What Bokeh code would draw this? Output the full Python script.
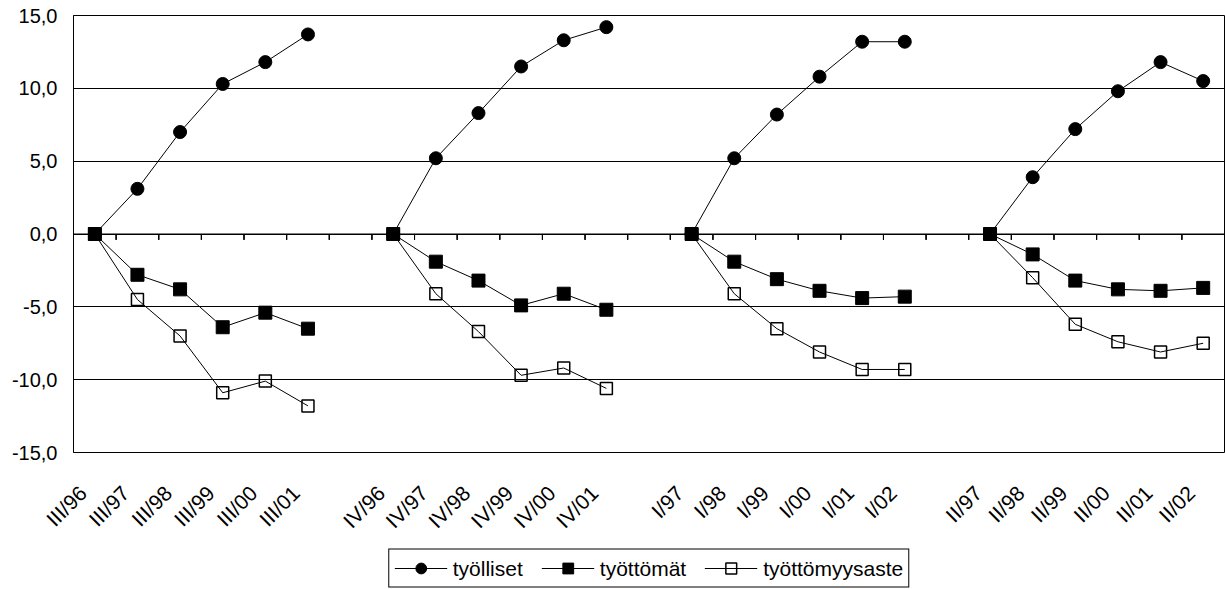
import math
from bokeh.plotting import figure
from bokeh.layouts import column
from bokeh.models import (ColumnDataSource, Range1d, FixedTicker, Span,
                          Legend, LegendItem, CustomJSTickFormatter)
from bokeh.embed import file_html
from bokeh.resources import INLINE

# ---- data ----
categories = ["III/96", "III/97", "III/98", "III/99", "III/00", "III/01", "",
              "IV/96", "IV/97", "IV/98", "IV/99", "IV/00", "IV/01", "",
              "I/97", "I/98", "I/99", "I/00", "I/01", "I/02", "",
              "II/97", "II/98", "II/99", "II/00", "II/01", "II/02"]
N = None
tyolliset = [0.0, 3.1, 7.0, 10.3, 11.8, 13.7, N,
             0.0, 5.2, 8.3, 11.5, 13.3, 14.2, N,
             0.0, 5.2, 8.2, 10.8, 13.2, 13.2, N,
             0.0, 3.9, 7.2, 9.8, 11.8, 10.5]
tyottomat = [0.0, -2.8, -3.8, -6.4, -5.4, -6.5, N,
             0.0, -1.9, -3.2, -4.9, -4.1, -5.2, N,
             0.0, -1.9, -3.1, -3.9, -4.4, -4.3, N,
             0.0, -1.4, -3.2, -3.8, -3.9, -3.7]
tyottomyysaste = [0.0, -4.5, -7.0, -10.9, -10.1, -11.8, N,
                  0.0, -4.1, -6.7, -9.7, -9.2, -10.6, N,
                  0.0, -4.1, -6.5, -8.1, -9.3, -9.3, N,
                  0.0, -3.0, -6.2, -7.4, -8.1, -7.5]
series_names = ["työlliset", "työttömät", "työttömyysaste"]
y_ticks = [-15, -10, -5, 0, 5, 10, 15]


def nanify(vals):
    return [float("nan") if v is None else v for v in vals]


n_cat = len(categories)
centers = [i + 0.5 for i in range(n_cat)]          # category slot centres
boundaries = list(range(1, n_cat))                  # category slot edges
label_pos = [c - 0.28 for c in centers]             # rotated labels end a bit left of centre

src = ColumnDataSource(dict(x=centers,
                            a=nanify(tyolliset),
                            b=nanify(tyottomat),
                            c=nanify(tyottomyysaste)))

FONT = "Liberation Sans"
W = 1225

p = figure(width=W, height=547, output_backend="svg", toolbar_location=None,
           x_range=Range1d(0, n_cat),
           y_range=Range1d(y_ticks[0], y_ticks[-1]),
           min_border_left=73, min_border_right=1, min_border_top=15, min_border_bottom=95)

p.outline_line_color = "black"
p.outline_line_width = 1
p.background_fill_color = "white"
p.border_fill_color = "white"

# y axis
p.yaxis.ticker = FixedTicker(ticks=y_ticks)
p.yaxis.formatter = CustomJSTickFormatter(code="return tick.toFixed(1).replace('.', ',');")
p.yaxis.major_label_text_font = FONT
p.yaxis.major_label_text_font_size = "20px"
p.yaxis.major_label_text_color = "black"
p.yaxis.major_tick_out = 0
p.yaxis.major_tick_in = 0
p.yaxis.minor_tick_line_color = None
p.yaxis.axis_line_color = "black"
p.yaxis.major_label_standoff = 16

# x axis (category labels)
p.xaxis.ticker = FixedTicker(ticks=label_pos)
p.xaxis.formatter = CustomJSTickFormatter(args=dict(labels=categories),
                                          code="return labels[Math.round(tick)] || '';")
p.xaxis.major_label_orientation = math.pi / 4
p.xaxis.major_label_text_font = FONT
p.xaxis.major_label_text_font_size = "21px"
p.xaxis.major_label_text_color = "black"
p.xaxis.axis_line_color = None
p.xaxis.major_tick_line_color = None
p.xaxis.minor_tick_line_color = None
p.xaxis.major_tick_out = 0
p.xaxis.major_tick_in = 0
p.xaxis.major_label_standoff = 37

p.xgrid.grid_line_color = None
p.ygrid.ticker = FixedTicker(ticks=y_ticks)
p.ygrid.grid_line_color = "black"
p.ygrid.grid_line_width = 1

# zero axis line with tick marks at category boundaries
p.add_layout(Span(location=0, dimension="width", line_color="black", line_width=1))
p.multi_line(xs=[[b, b] for b in boundaries], ys=[[0.0, -0.4] for _ in boundaries],
             line_color="black", line_width=1)
p.vbar(x=boundaries, width=0.001, top=0.0, bottom=-0.4,
       fill_color="black", line_color="black", line_width=1)

# series
LINE = dict(line_color="black", line_width=1)
MK = [dict(marker="circle", size=13, fill_color="black", line_color="black"),
      dict(marker="square", size=13, fill_color="black", line_color="black"),
      dict(marker="square", size=12, fill_color=None, line_color="black", line_width=1.5)]

p.line("x", "c", source=src, **LINE)
p.scatter("x", "c", source=src, **MK[2])
p.line("x", "a", source=src, **LINE)
p.scatter("x", "a", source=src, **MK[0])
p.line("x", "b", source=src, **LINE)
p.scatter("x", "b", source=src, **MK[1])

# ---- legend strip (separate figure so the legend is not clipped) ----
lg = figure(width=W, height=42, output_backend="svg", toolbar_location=None,
            x_range=Range1d(0, 1), y_range=Range1d(0, 1),
            x_axis_location=None, y_axis_location=None,
            min_border_left=73, min_border_right=1, min_border_top=0, min_border_bottom=0)
lg.outline_line_color = None
lg.grid.grid_line_color = None
lg.border_fill_color = "white"

# proxy renderers (single point outside the visible range) that only feed the legend
proxy = ColumnDataSource(dict(x=[-10.0], y=[-10.0]))
items = []
for name, mk in zip(series_names, MK):
    r_line = lg.line("x", "y", source=proxy, **LINE)
    r_mk = lg.scatter("x", "y", source=proxy, **mk)
    items.append(LegendItem(label=name, renderers=[r_line, r_mk]))

legend = Legend(items=items, orientation="horizontal", location="center",
                label_text_font=FONT, label_text_font_size="21px",
                label_text_color="black",
                glyph_width=53, glyph_height=27, label_standoff=6, spacing=18,
                padding=5, margin=0,
                border_line_color="black", border_line_width=1, border_line_alpha=1,
                background_fill_color="white", background_fill_alpha=1)
lg.add_layout(legend, "center")

layout = column(p, lg, spacing=0)
open("out.html", "w").write(file_html(layout, INLINE))
